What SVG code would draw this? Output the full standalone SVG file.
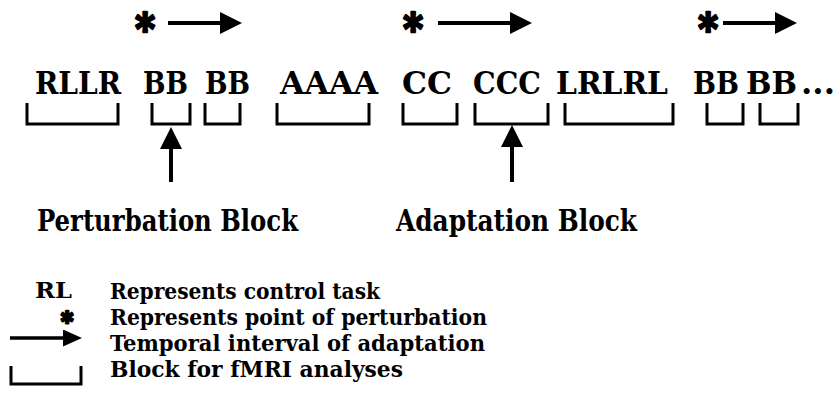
<svg xmlns="http://www.w3.org/2000/svg" width="837" height="420" viewBox="0 0 837 420">
<style>
.t{font-family:'DejaVu Serif Condensed','DejaVu Serif',serif;font-weight:bold;fill:#000}
.row{font-size:31px}
.lab{font-size:30px}
.leg{font-size:23px}
.star{stroke:#000;stroke-width:2.5;stroke-linejoin:round}
.br{fill:none;stroke:#000;stroke-width:3;stroke-linejoin:miter}
.ln{fill:none;stroke:#000;stroke-width:4}
.ln2{fill:none;stroke:#000;stroke-width:3.5}
</style>
<defs>
<marker id="hd" viewBox="0 0 22 22" markerUnits="userSpaceOnUse" markerWidth="22" markerHeight="22" refX="1" refY="11" orient="auto"><path d="M0,0 L22,11 L0,22 Z" fill="#000"/></marker>
<marker id="hds" viewBox="0 0 19 17" markerUnits="userSpaceOnUse" markerWidth="19" markerHeight="17" refX="1" refY="8.5" orient="auto"><path d="M0,0 L19,8.5 L0,17 Z" fill="#000"/></marker>
</defs>
<rect width="837" height="420" fill="#fff"/>
<g id="sequence">
<text class="t row" x="35" y="94" textLength="86" lengthAdjust="spacingAndGlyphs">RLLR</text>
<text class="t row" x="143" y="94" textLength="45" lengthAdjust="spacingAndGlyphs">BB</text>
<text class="t row" x="205" y="94" textLength="45" lengthAdjust="spacingAndGlyphs">BB</text>
<text class="t row" x="280" y="94" textLength="98" lengthAdjust="spacingAndGlyphs">AAAA</text>
<text class="t row" x="402" y="94" textLength="50" lengthAdjust="spacingAndGlyphs">CC</text>
<text class="t row" x="473" y="94" textLength="68" lengthAdjust="spacingAndGlyphs">CCC</text>
<text class="t row" x="556" y="94" textLength="112" lengthAdjust="spacingAndGlyphs">LRLRL</text>
<text class="t row" x="693" y="94" textLength="46" lengthAdjust="spacingAndGlyphs">BB</text>
<text class="t row" x="746" y="94" textLength="51" lengthAdjust="spacingAndGlyphs">BB</text>
<text class="t row" x="801" y="94" textLength="34" lengthAdjust="spacingAndGlyphs">...</text>
</g>
<g id="perturbation-markers">
<text class="t star" x="145" y="44" font-size="42" text-anchor="middle">*</text>
<text class="t star" x="413" y="44" font-size="42" text-anchor="middle">*</text>
<text class="t star" x="708" y="44" font-size="42" text-anchor="middle">*</text>
</g>
<g id="blocks">
<path class="br" d="M27,103 V124 H118 V103"/>
<path class="br" d="M152,103 V124 H190 V103"/>
<path class="br" d="M205,103 V124 H240 V103"/>
<path class="br" d="M277,103 V124 H369 V103"/>
<path class="br" d="M403,103 V124 H457 V103"/>
<path class="br" d="M475,103 V124 H548 V103"/>
<path class="br" d="M565,103 V124 H673 V103"/>
<path class="br" d="M707,103 V124 H743 V103"/>
<path class="br" d="M760,103 V124 H798 V103"/>
</g>
<g id="perturbation-block-label">
<text class="t lab" x="37" y="231" textLength="261" lengthAdjust="spacingAndGlyphs">Perturbation Block</text>
</g>
<g id="adaptation-block-label">
<text class="t lab" x="396" y="231" textLength="241" lengthAdjust="spacingAndGlyphs">Adaptation Block</text>
</g>
<g id="connectors">
<line class="ln" x1="168" y1="23" x2="221" y2="23" marker-end="url(#hd)"/>
<line class="ln" x1="438" y1="23" x2="511" y2="23" marker-end="url(#hd)"/>
<line class="ln" x1="723" y1="23" x2="776" y2="23" marker-end="url(#hd)"/>
<line class="ln" x1="171" y1="182" x2="171" y2="148" marker-end="url(#hd)"/>
<line class="ln" x1="512" y1="182" x2="512" y2="146" marker-end="url(#hd)"/>
</g>
<g id="legend">
<text class="t leg" x="35" y="298" textLength="37" lengthAdjust="spacingAndGlyphs">RL</text>
<text class="t star" x="67" y="330" font-size="26" text-anchor="middle" stroke-width="1.5">*</text>
<line class="ln2" x1="10" y1="338" x2="64" y2="338" marker-end="url(#hds)"/>
<path class="br" d="M11,366 V384 H81 V366"/>
<text class="t leg" x="110" y="299" textLength="270" lengthAdjust="spacingAndGlyphs">Represents control task</text>
<text class="t leg" x="110" y="325" textLength="377" lengthAdjust="spacingAndGlyphs">Represents point of perturbation</text>
<text class="t leg" x="110" y="351" textLength="375" lengthAdjust="spacingAndGlyphs">Temporal interval of adaptation</text>
<text class="t leg" x="110" y="377" textLength="293" lengthAdjust="spacingAndGlyphs">Block for fMRI analyses</text>
</g>
</svg>
